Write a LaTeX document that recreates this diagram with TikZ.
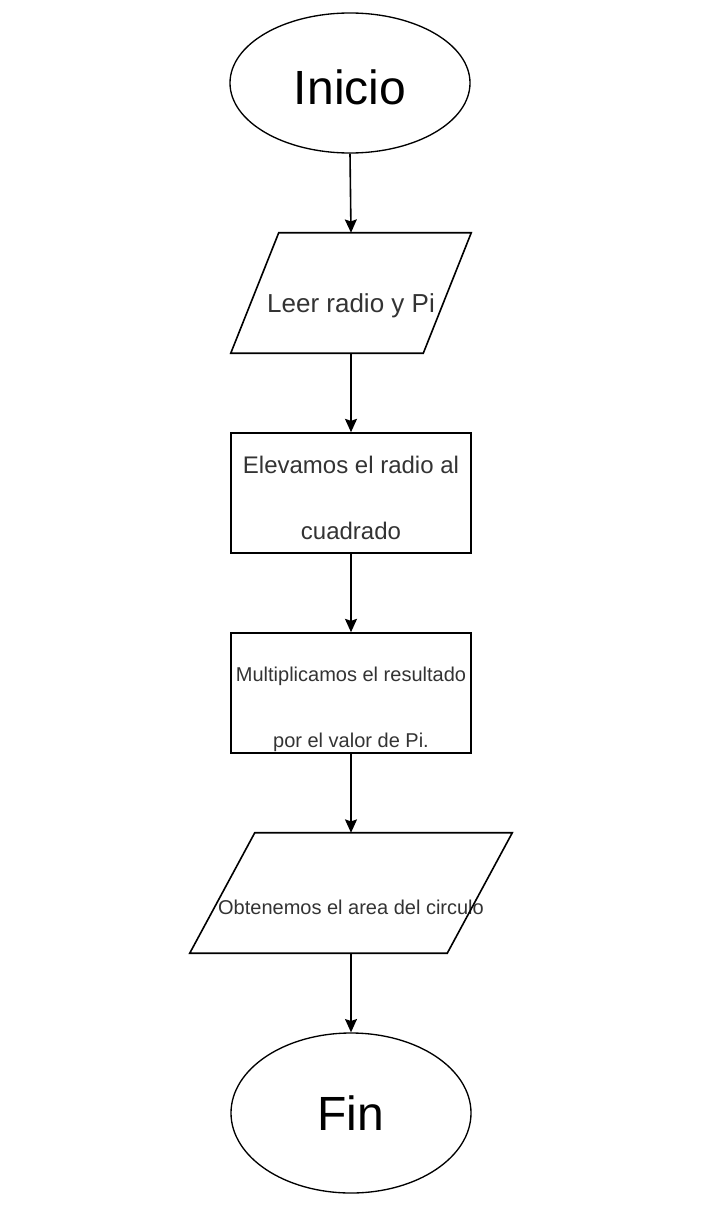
\documentclass[tikz,border=0pt]{standalone}
\usepackage{fontspec}
\setmainfont{Liberation Sans}
\usetikzlibrary{arrows.meta,shapes.geometric}
% slanted outline round a plain node: #1 node, #2 half the slant
\newcommand{\ioframe}[2]{%
  \draw[line width=1.2pt] ([xshift=#2]#1.north west) -- ([xshift=#2]#1.north east)
    -- ([xshift=-#2]#1.south east) -- ([xshift=-#2]#1.south west) -- cycle;}

\begin{document}
\begin{tikzpicture}[
  x=0.75pt, y=-0.75pt,
  >={Stealth[length=10pt,width=9pt,inset=1.5pt]},
  term/.style={draw,ellipse,minimum width=180pt,minimum height=105pt,inner sep=0pt,line width=1pt,font=\fontsize{36}{40}\selectfont},
  io/.style={rectangle,minimum height=90pt,inner sep=0pt,text height=33pt,text=black!80},
  proc/.style={draw,rectangle,align=center,minimum width=180pt,minimum height=90pt,inner sep=0pt,line width=1.2pt,text=black!80},
  arr/.style={->,line width=1.2pt}
]
  % page frame, same size as the drawing
  \useasboundingbox (0,0) rectangle (722,1213);

  \node[term,minimum height=105pt,text height=33pt] (inicio) at (350,83) {Inicio};

  \node[io,minimum width=144pt,font=\fontsize{19.5}{22}\selectfont] (leer) at (351,293)
    {Leer radio y Pi};
  \ioframe{leer}{18pt}

  \node[proc,font=\fontsize{18}{49.5}\selectfont] (elevar) at (351,493)
    {\rule{0pt}{20.5pt}Elevamos el radio al\\cuadrado};

  \node[proc,font=\fontsize{15}{49.5}\selectfont] (mult) at (351,693)
    {\rule{0pt}{36pt}Multiplicamos el resultado\\por el valor de Pi.};

  \node[io,minimum width=192.75pt,inner xsep=-3.5pt,font=\fontsize{15}{18}\selectfont] (area) at (351,893)
    {Obtenemos el area del circulo};
  \ioframe{area}{24.4pt}

  \node[term,minimum height=120pt] (fin) at (351,1113) {Fin};

  \draw[arr] (inicio.south) -- (leer.north);
  \draw[arr] (leer.south) -- (elevar.north);
  \draw[arr] (elevar.south) -- (mult.north);
  \draw[arr] (mult.south) -- (area.north);
  \draw[arr] (area.south) -- (fin.north);
\end{tikzpicture}
\end{document}
